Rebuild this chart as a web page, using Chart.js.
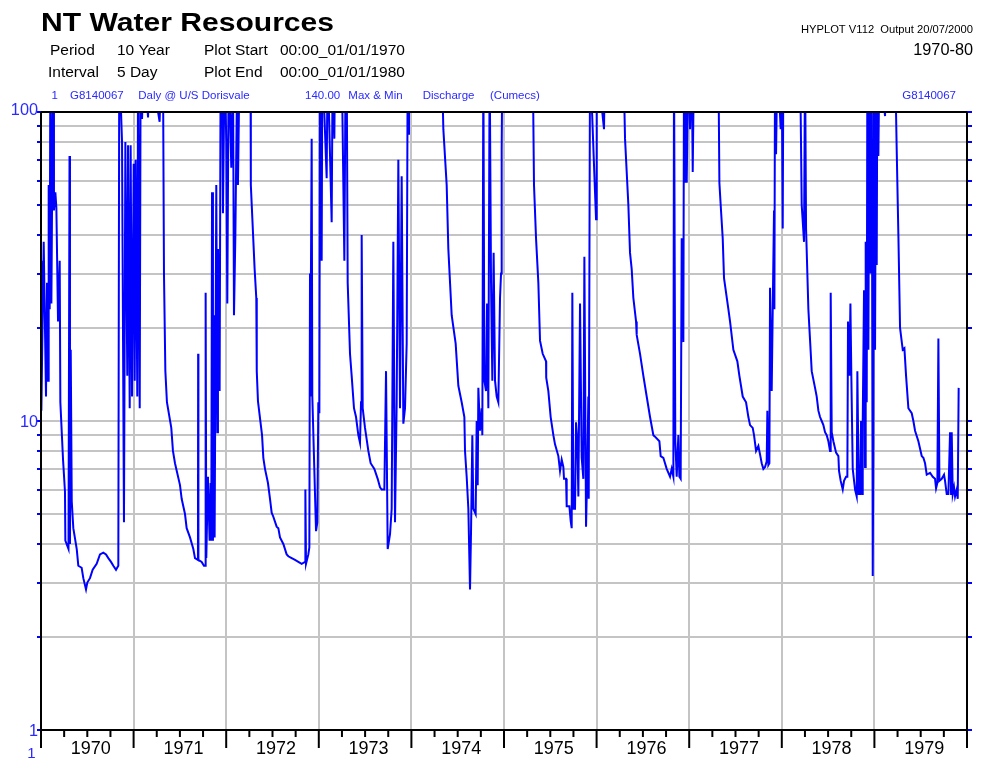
<!DOCTYPE html>
<html>
<head>
<meta charset="utf-8">
<script src="https://cdn.jsdelivr.net/npm/chart.js@4"></script>
<style>
  body { margin: 0; background: #fff; }
  canvas { display: block; }
</style>
</head>
<body>
<canvas id="hyplot" width="986" height="760"></canvas>
<script>
// discharge (cumecs) at 5-day steps, [decimal year, value]; 150 = off the top of the plot
const q1970 = [[1970.000,33],[1970.004,10.8],[1970.029,38],[1970.054,12],[1970.065,28],[1970.076,13.5],[1970.083,58],[1970.094,23],[1970.101,150],[1970.112,24],[1970.130,150],[1970.140,48],[1970.155,55],[1970.166,49],[1970.184,21],[1970.202,33],[1970.209,11.5],[1970.238,7.5],[1970.259,5.9],[1970.263,4.1],[1970.297,3.85],[1970.308,72],[1970.313,4.0],[1970.321,17],[1970.332,5.5],[1970.349,4.5],[1970.386,3.85],[1970.403,3.4],[1970.439,3.35],[1970.457,3.1],[1970.486,2.85],[1970.500,3.0],[1970.529,3.1],[1970.558,3.3],[1970.601,3.45],[1970.637,3.7],[1970.673,3.75],[1970.702,3.7],[1970.727,3.6],[1970.756,3.5],[1970.781,3.4],[1970.810,3.3],[1970.835,3.4],[1970.845,150],[1970.875,80],[1970.896,4.7],[1970.911,80],[1970.932,14],[1970.940,78],[1970.958,11],[1970.968,78],[1970.983,12]]
const q1971 = [[1971.001,68],[1971.012,13.5],[1971.022,70],[1971.040,12],[1971.048,150],[1971.066,11],[1971.076,150],[1971.091,95],[1971.112,150],[1971.156,96],[1971.170,150],[1971.281,93],[1971.300,150],[1971.317,150],[1971.328,30],[1971.343,14.5],[1971.360,11.5],[1971.407,9.5],[1971.425,8.0],[1971.447,7.3],[1971.501,6.2],[1971.519,5.6],[1971.555,5.0],[1971.573,4.5],[1971.609,4.2],[1971.645,3.85],[1971.663,3.6],[1971.695,3.55],[1971.697,16.5],[1971.700,3.55],[1971.735,3.5],[1971.760,3.4],[1971.775,3.4],[1971.778,26],[1971.785,3.6],[1971.803,6.6],[1971.821,4.1],[1971.832,6.3],[1971.839,4.1],[1971.847,55],[1971.857,4.1],[1971.868,22],[1971.875,4.2],[1971.893,58],[1971.904,9.2],[1971.911,36],[1971.929,12.5],[1971.940,150],[1971.955,150],[1971.965,47],[1971.983,150]]
const q1972 = [[1972.001,80],[1972.012,24],[1972.027,150],[1972.055,66],[1972.073,150],[1972.084,22],[1972.099,40],[1972.120,150],[1972.127,58],[1972.145,150],[1972.262,150],[1972.266,58],[1972.307,31],[1972.325,25],[1972.330,14.5],[1972.343,11.6],[1972.387,9.0],[1972.401,7.6],[1972.419,7.0],[1972.451,6.3],[1972.473,5.6],[1972.491,5.05],[1972.509,4.9],[1972.545,4.55],[1972.563,4.5],[1972.581,4.2],[1972.617,4.0],[1972.653,3.7],[1972.671,3.65],[1972.707,3.6],[1972.743,3.55],[1972.779,3.5],[1972.815,3.45],[1972.851,3.5],[1972.855,6.0],[1972.862,3.45],[1972.887,3.7],[1972.898,3.9],[1972.905,30],[1972.908,12],[1972.923,82],[1972.930,12],[1972.970,4.4],[1972.984,4.7],[1972.995,11.5]]
const q1973 = [[1973.006,10.6],[1973.013,150],[1973.031,33],[1973.038,150],[1973.085,61],[1973.095,150],[1973.139,44],[1973.150,150],[1973.168,82],[1973.175,150],[1973.247,150],[1973.276,33],[1973.290,150],[1973.301,150],[1973.312,28],[1973.337,16.5],[1973.355,14],[1973.380,11],[1973.402,10.3],[1973.427,9.0],[1973.445,8.5],[1973.456,11.5],[1973.463,40],[1973.474,11],[1973.499,9.5],[1973.535,8.0],[1973.560,7.3],[1973.600,7.0],[1973.636,6.5],[1973.661,6.1],[1973.679,6.0],[1973.708,6.0],[1973.726,14.5],[1973.744,3.85],[1973.769,4.3],[1973.787,5.2],[1973.805,38],[1973.823,4.7],[1973.841,11.5],[1973.859,70],[1973.877,11],[1973.895,62],[1973.913,9.8],[1973.931,11],[1973.949,17.8],[1973.960,150],[1973.967,85],[1973.974,150]]
const q1974 = [[1974.327,150],[1974.345,88],[1974.381,58],[1974.399,36],[1974.435,22],[1974.478,17.8],[1974.507,13],[1974.543,11.5],[1974.572,10.3],[1974.579,8],[1974.597,6.6],[1974.615,5.2],[1974.633,2.85],[1974.644,4.4],[1974.658,9],[1974.669,5.2],[1974.694,5.0],[1974.705,10],[1974.716,6.2],[1974.723,12.8],[1974.741,9.3],[1974.759,11],[1974.766,9],[1974.777,150],[1974.788,13.5],[1974.806,12.5],[1974.817,24],[1974.831,11],[1974.845,150],[1974.860,28],[1974.874,13.5],[1974.888,35],[1974.903,13.5],[1974.921,12],[1974.939,11.5],[1974.957,25],[1974.968,30],[1974.975,75],[1974.982,150]]
const q1975 = [[1975.310,150],[1975.324,58],[1975.346,39],[1975.371,28],[1975.389,18.2],[1975.418,16.5],[1975.454,15.6],[1975.456,13.8],[1975.479,12.5],[1975.504,10.3],[1975.533,9.0],[1975.551,8.4],[1975.587,7.7],[1975.605,6.9],[1975.623,7.5],[1975.641,7.1],[1975.648,6.5],[1975.670,6.5],[1975.677,5.3],[1975.706,5.3],[1975.720,4.75],[1975.731,4.5],[1975.738,26],[1975.749,5.2],[1975.767,5.2],[1975.778,9.9],[1975.792,8.6],[1975.803,5.7],[1975.821,24],[1975.839,7.6],[1975.857,6.5],[1975.868,34],[1975.886,4.55],[1975.900,7.1],[1975.911,12],[1975.915,5.6],[1975.929,150],[1975.983,55],[1975.994,45]]
const q1976 = [[1976.001,150],[1976.080,88],[1976.091,150],[1976.289,150],[1976.307,82],[1976.343,50],[1976.361,35],[1976.379,31],[1976.397,25],[1976.426,21],[1976.433,19],[1976.469,16.5],[1976.505,14],[1976.541,12],[1976.577,10.3],[1976.613,9],[1976.631,8.9],[1976.678,8.6],[1976.692,7.7],[1976.721,7.6],[1976.757,7.0],[1976.793,6.6],[1976.811,7.0],[1976.829,6.6],[1976.836,150],[1976.850,8.6],[1976.865,6.6],[1976.883,9.0],[1976.894,6.6],[1976.908,6.5],[1976.919,39],[1976.937,18],[1976.944,150],[1976.955,59],[1976.966,150],[1976.973,59],[1976.990,150]]
const q1977 = [[1977.009,88],[1977.027,150],[1977.038,64],[1977.052,150],[1977.315,150],[1977.326,59],[1977.340,50],[1977.362,39],[1977.376,29],[1977.423,23],[1977.441,21],[1977.477,17],[1977.520,15.6],[1977.542,14],[1977.578,12],[1977.614,11.5],[1977.639,10.3],[1977.657,9.7],[1977.686,9.5],[1977.700,9],[1977.722,8],[1977.747,8.3],[1977.765,7.8],[1977.783,7.3],[1977.801,7.0],[1977.819,7.1],[1977.837,7.4],[1977.844,10.8],[1977.855,7.2],[1977.866,7.3],[1977.873,27],[1977.891,12.5],[1977.902,23],[1977.916,48],[1977.920,23],[1977.927,150],[1977.938,73],[1977.952,150],[1977.988,88],[1977.999,150]]
const q1978 = [[1978.010,42],[1978.017,150],[1978.197,150],[1978.215,50],[1978.240,38],[1978.251,150],[1978.262,42],[1978.287,23],[1978.305,18.3],[1978.323,14.5],[1978.359,12.8],[1978.377,12],[1978.395,10.8],[1978.413,10.3],[1978.431,10],[1978.449,9.7],[1978.467,9.2],[1978.485,9],[1978.503,8.6],[1978.521,8],[1978.528,26],[1978.539,9.2],[1978.557,8.6],[1978.586,7.9],[1978.611,7.7],[1978.618,6.9],[1978.636,6.4],[1978.658,6.0],[1978.672,6.4],[1978.694,6.6],[1978.708,6.6],[1978.715,21],[1978.730,14],[1978.741,24],[1978.751,14],[1978.766,7],[1978.791,6],[1978.809,5.7],[1978.816,14.5],[1978.831,5.8],[1978.845,5.8],[1978.856,10],[1978.867,5.8],[1978.874,10],[1978.888,26.5],[1978.899,7.1],[1978.906,38],[1978.917,11.5],[1978.924,150],[1978.935,17],[1978.946,150],[1978.960,30],[1978.971,150],[1978.982,3.15],[1978.989,8.6],[1978.996,150]]
const q1979 = [[1979.007,17],[1979.018,150],[1979.025,32],[1979.032,150],[1979.043,72],[1979.054,150],[1979.115,97],[1979.126,150],[1979.223,150],[1979.241,75],[1979.259,40],[1979.277,20],[1979.306,17],[1979.324,17.2],[1979.342,14],[1979.367,11],[1979.403,10.6],[1979.421,10],[1979.439,9.3],[1979.475,8.6],[1979.511,7.7],[1979.529,7.6],[1979.547,7.3],[1979.565,6.7],[1979.601,6.8],[1979.630,6.6],[1979.655,6.5],[1979.666,6.05],[1979.680,6.3],[1979.691,18.5],[1979.702,6.4],[1979.727,6.5],[1979.752,6.7],[1979.763,6.4],[1979.781,5.8],[1979.799,5.8],[1979.817,9.2],[1979.828,5.8],[1979.835,9.2],[1979.846,5.8],[1979.860,6.1],[1979.871,5.7],[1979.889,6.0],[1979.900,5.6],[1979.910,12.8]]

const yearTicks = [1970, 1971, 1972, 1973, 1974, 1975, 1976, 1977, 1978, 1979, 1980]
const yearLabels = ['1970', '1971', '1972', '1973', '1974', '1975', '1976', '1977', '1978', '1979']
const logTicks = [1, 2, 3, 4, 5, 6, 7, 8, 9, 10, 20, 30, 40, 50, 60, 70, 80, 90, 100]
const logLabels = [1, 10, 100]

const allPoints = [].concat(q1970, q1971, q1972, q1973, q1974, q1975, q1976, q1977, q1978, q1979)
  .map(p => ({ x: p[0], y: p[1] }))

const FONT = '"Liberation Sans", Arial, sans-serif'
const BLUE = '#0000ff'
const TXTBLUE = '#2a2aff'

function text(ctx, s, x, y, size, color, align, bold, width) {
  ctx.save()
  ctx.font = (bold ? 'bold ' : '') + size + 'px ' + FONT
  ctx.fillStyle = color
  ctx.textAlign = align || 'left'
  ctx.textBaseline = 'alphabetic'
  if (width) {
    const m = ctx.measureText(s).width
    ctx.translate(x, y)
    ctx.scale(width / m, 1)
    ctx.fillText(s, 0, 0)
  } else {
    ctx.fillText(s, x, y)
  }
  ctx.restore()
}

function line(ctx, x1, y1, x2, y2, color, w) {
  ctx.strokeStyle = color
  ctx.lineWidth = w
  ctx.beginPath()
  ctx.moveTo(x1, y1)
  ctx.lineTo(x2, y2)
  ctx.stroke()
}

const hyplotFrame = {
  id: 'hyplotFrame',
  afterDraw(chart) {
    const ctx = chart.ctx
    const a = chart.chartArea
    const xs = chart.scales.x
    const ys = chart.scales.y
    ctx.save()

    // header
    text(ctx, 'NT Water Resources', 41, 30.5, 26.5, '#000', 'left', true, 293)
    text(ctx, 'Period', 50, 55, 15.5, '#000')
    text(ctx, '10 Year', 117, 55, 15.5, '#000')
    text(ctx, 'Plot Start', 204, 55, 15.5, '#000')
    text(ctx, '00:00_01/01/1970', 280, 55, 15.5, '#000')
    text(ctx, 'Interval', 48, 76.5, 15.5, '#000')
    text(ctx, '5 Day', 117, 76.5, 15.5, '#000')
    text(ctx, 'Plot End', 204, 76.5, 15.5, '#000')
    text(ctx, '00:00_01/01/1980', 280, 76.5, 15.5, '#000')
    text(ctx, 'HYPLOT V112  Output 20/07/2000', 973, 33.3, 11.2, '#000', 'right')
    text(ctx, '1970-80', 973, 55, 16.3, '#000', 'right')

    // series line
    text(ctx, '1', 51.5, 99, 11.5, TXTBLUE)
    text(ctx, 'G8140067', 70, 99, 11.5, TXTBLUE)
    text(ctx, 'Daly @ U/S Dorisvale', 138.3, 99, 11.5, TXTBLUE)
    text(ctx, '140.00', 305, 99, 11.5, TXTBLUE)
    text(ctx, 'Max & Min', 348.3, 99, 11.5, TXTBLUE)
    text(ctx, 'Discharge', 422.7, 99, 11.5, TXTBLUE)
    text(ctx, '(Cumecs)', 490, 99, 11.5, TXTBLUE)
    text(ctx, 'G8140067', 956, 99, 11.5, TXTBLUE, 'right')

    // blue ticks on both sides of the log axis
    logTicks.forEach(v => {
      const py = Math.round(ys.getPixelForValue(v))
      line(ctx, a.left - 4, py, a.left, py, BLUE, 2)
      line(ctx, a.right, py, a.right + 5, py, BLUE, 2)
    })
    logLabels.forEach(v => {
      const py = ys.getPixelForValue(v)
      text(ctx, String(v), 38, py + (v === 100 ? 3 : 5.5), 16.3, TXTBLUE, 'right')
    })
    text(ctx, '1', 31.5, 758, 15, TXTBLUE, 'center')

    // frame
    line(ctx, a.left, a.top, a.right, a.top, '#000', 2)
    line(ctx, a.left, a.bottom, a.right, a.bottom, '#000', 2)
    line(ctx, a.left, a.top, a.left, a.bottom + 18, '#000', 2)
    line(ctx, a.right, a.top, a.right, a.bottom + 18, '#000', 2)

    // year ticks and quarter ticks along the bottom
    yearTicks.forEach((yr, i) => {
      const px = xs.getPixelForValue(yr)
      line(ctx, px, a.bottom, px, a.bottom + 18, '#000', 2)
      if (i < yearLabels.length) {
        for (let k = 1; k < 4; k++) {
          const qx = xs.getPixelForValue(yr + k / 4)
          line(ctx, qx, a.bottom, qx, a.bottom + 7, '#000', 2)
        }
        text(ctx, yearLabels[i], xs.getPixelForValue(yr + 0.5) + 3.5, 754, 18, '#000', 'center')
      }
    })
    ctx.restore()
  }
}

const ctx = document.getElementById('hyplot')

new Chart(ctx, {
  type: 'line',
  data: {
    datasets: [
      {
        label: 'G8140067 Discharge',
        data: allPoints,
        borderColor: BLUE,
        borderWidth: 2,
        pointRadius: 0,
        tension: 0,
        fill: false,
        clip: 0
      }
    ]
  },
  options: {
    responsive: false,
    animation: false,
    events: [],
    layout: { padding: { left: 41, right: 19, top: 112, bottom: 30 } },
    plugins: {
      legend: { display: false },
      tooltip: { enabled: false }
    },
    scales: {
      x: {
        type: 'linear',
        min: 1970,
        max: 1980,
        afterBuildTicks: s => { s.ticks = yearTicks.map(v => ({ value: v })) },
        afterFit: s => { s.height = 0 },
        ticks: { display: false },
        grid: { color: '#c4c4c4', lineWidth: 2, drawTicks: false },
        border: { display: false }
      },
      y: {
        type: 'logarithmic',
        min: 1,
        max: 100,
        afterBuildTicks: s => { s.ticks = logTicks.map(v => ({ value: v })) },
        afterFit: s => { s.width = 0 },
        ticks: { display: false },
        grid: { color: '#c4c4c4', lineWidth: 2, drawTicks: false },
        border: { display: false }
      }
    }
  },
  plugins: [hyplotFrame]
})
</script>
</body>
</html>
